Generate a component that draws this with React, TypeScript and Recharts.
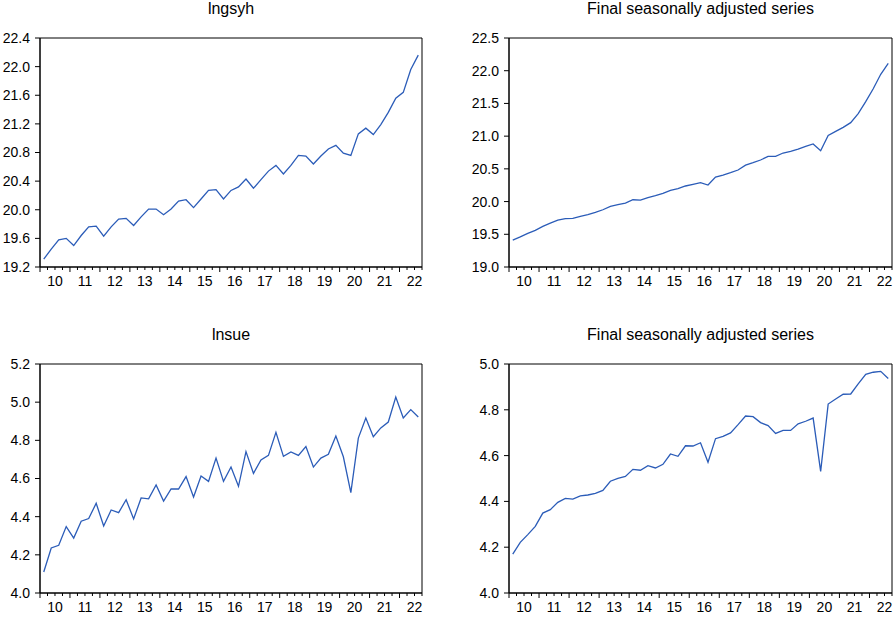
import React from "react";
import { LineChart, Line, XAxis, YAxis, ReferenceArea } from "recharts";

// Quarterly observations 2010Q1 .. 2022Q3 (51 obs)
const YEAR_LABELS = ["10", "11", "12", "13", "14", "15", "16", "17", "18", "19", "20", "21", "22"];

const LNGSYH = [
  19.31, 19.45, 19.58, 19.6, 19.5, 19.64, 19.76, 19.77, 19.63, 19.76,
  19.87, 19.88, 19.78, 19.9, 20.01, 20.01, 19.93, 20.01, 20.12, 20.14,
  20.03, 20.15, 20.27, 20.28, 20.15, 20.27, 20.32, 20.43, 20.3, 20.42,
  20.54, 20.62, 20.5, 20.62, 20.76, 20.75, 20.64, 20.75, 20.85, 20.9,
  20.79, 20.76, 21.06, 21.14, 21.05, 21.19, 21.36, 21.56, 21.64, 21.96,
  22.16,
];

const LNGSYH_SA = [
  19.41, 19.46, 19.515, 19.56, 19.62, 19.67, 19.715, 19.74, 19.743, 19.775,
  19.8, 19.835, 19.875, 19.927, 19.952, 19.977, 20.028, 20.023, 20.06, 20.09,
  20.125, 20.171, 20.197, 20.238, 20.263, 20.288, 20.253, 20.375, 20.406, 20.441,
  20.482, 20.556, 20.594, 20.635, 20.691, 20.691, 20.742, 20.768, 20.803, 20.844,
  20.88, 20.778, 21.01, 21.073, 21.134, 21.206, 21.345, 21.527, 21.725, 21.945,
  22.112,
];

const LNSUE = [
  4.11, 4.236, 4.25, 4.348, 4.288, 4.376, 4.39, 4.47, 4.351, 4.435,
  4.421, 4.489, 4.388, 4.498, 4.493, 4.566, 4.482, 4.545, 4.545, 4.61,
  4.503, 4.613, 4.585, 4.707, 4.585, 4.66, 4.559, 4.741, 4.627, 4.697,
  4.721, 4.842, 4.716, 4.739, 4.721, 4.767, 4.66, 4.707, 4.727, 4.823,
  4.714, 4.526, 4.812, 4.917, 4.819, 4.865, 4.896, 5.027, 4.917, 4.961,
  4.922,
];

const LNSUE_SA = [
  4.17, 4.221, 4.255, 4.291, 4.349, 4.364, 4.396, 4.413, 4.41, 4.424,
  4.428, 4.435, 4.448, 4.488, 4.501, 4.509, 4.54, 4.536, 4.556, 4.546,
  4.562, 4.607, 4.597, 4.643, 4.642, 4.656, 4.571, 4.674, 4.684, 4.699,
  4.735, 4.773, 4.77, 4.744, 4.731, 4.697, 4.71, 4.71, 4.739, 4.75,
  4.764, 4.531, 4.825, 4.847, 4.868, 4.869, 4.913, 4.955, 4.964, 4.968,
  4.937,
];

const TICKS_LNGSYH = [19.2, 19.6, 20.0, 20.4, 20.8, 21.2, 21.6, 22.0, 22.4];
const TICKS_LNGSYH_SA = [19.0, 19.5, 20.0, 20.5, 21.0, 21.5, 22.0, 22.5];
const TICKS_LNSUE = [4.0, 4.2, 4.4, 4.6, 4.8, 5.0, 5.2];
const TICKS_LNSUE_SA = [4.0, 4.2, 4.4, 4.6, 4.8, 5.0];

const FONT = "'Liberation Sans', Arial, Helvetica, sans-serif";
const LINE_COLOR = "#2b5cb8";

const toRows = (values: number[]) => values.map((v, i) => ({ i, v }));

const N = LNGSYH.length;
// slot boundaries between observations (used for the quarter tick marks)
const X_TICKS = Array.from({ length: N + 1 }, (_, k) => k - 0.5);

const XTick = (props: any) => {
  const { x, y, payload } = props;
  const k = Math.round(payload.value + 0.5);
  const isYear = k % 4 === 0;
  const isLabel = (k - 2) % 4 === 0;
  const label = isLabel ? YEAR_LABELS[(k - 2) / 4] : null;
  return (
    <g>
      <line x1={x} x2={x} y1={y} y2={y + (isYear ? 5 : 3)} stroke="#000" strokeWidth={1} />
      {label && (
        <text x={x} y={y + 19} textAnchor="middle" fontSize={14} fontFamily={FONT} fill="#000">
          {label}
        </text>
      )}
    </g>
  );
};

type PanelProps = {
  title: string;
  values: number[];
  ticks: number[];
  left: number;
  top: number;
  width: number;
  height: number;
  yAxisWidth: number;
  marginTop: number;
  marginRight: number;
  xAxisHeight: number;
};

const Panel = (p: PanelProps) => {
  const data = toRows(p.values);
  const yMin = p.ticks[0];
  const yMax = p.ticks[p.ticks.length - 1];
  const plotLeft = p.yAxisWidth;
  const plotWidth = p.width - p.yAxisWidth - p.marginRight;
  return (
    <div style={{ position: "absolute", left: p.left, top: p.top, width: p.width, height: p.height }}>
      <div
        style={{
          position: "absolute",
          left: plotLeft,
          width: plotWidth,
          top: p.marginTop - 38,
          textAlign: "center",
          fontFamily: FONT,
          fontSize: 16,
          lineHeight: "18px",
          color: "#000",
          whiteSpace: "nowrap",
        }}
      >
        {p.title}
      </div>
      <LineChart
        width={p.width}
        height={p.height}
        data={data}
        margin={{ top: p.marginTop, right: p.marginRight, bottom: 0, left: 0 }}
      >
        <XAxis
          dataKey="i"
          type="number"
          domain={[-0.5, N - 0.5]}
          ticks={X_TICKS}
          interval={0}
          height={p.xAxisHeight}
          tickSize={0}
          tickMargin={0}
          tickLine={false}
          axisLine={{ stroke: "#000" }}
          tick={<XTick />}
        />
        <YAxis
          type="number"
          domain={[yMin, yMax]}
          ticks={p.ticks}
          interval={0}
          width={p.yAxisWidth}
          tickSize={5}
          tickMargin={5}
          tickLine={{ stroke: "#000" }}
          axisLine={{ stroke: "#000" }}
          tickFormatter={(v: number) => v.toFixed(1)}
          tick={{ fontSize: 14, fontFamily: FONT, fill: "#000" }}
        />
        <ReferenceArea x1={-0.5} x2={N - 0.5} y1={yMin} y2={yMax} fill="none" stroke="#000" strokeWidth={1} />
        <Line
          type="linear"
          dataKey="v"
          stroke={LINE_COLOR}
          strokeWidth={1.3}
          dot={false}
          isAnimationActive={false}
        />
      </LineChart>
    </div>
  );
};

export default function App() {
  return (
    <div style={{ position: "absolute", left: 0, top: 0, width: 894, height: 620, background: "#fff" }}>
      <Panel title="lngsyh" values={LNGSYH} ticks={TICKS_LNGSYH} left={0} top={0} width={440} height={300}
        yAxisWidth={40} marginTop={38} marginRight={18} xAxisHeight={33} />
      <Panel title="Final seasonally adjusted series" values={LNGSYH_SA} ticks={TICKS_LNGSYH_SA} left={450} top={0}
        width={444} height={300} yAxisWidth={59} marginTop={38} marginRight={2} xAxisHeight={33} />
      <Panel title="lnsue" values={LNSUE} ticks={TICKS_LNSUE} left={0} top={320} width={440} height={300}
        yAxisWidth={40} marginTop={44} marginRight={18} xAxisHeight={27} />
      <Panel title="Final seasonally adjusted series" values={LNSUE_SA} ticks={TICKS_LNSUE_SA} left={450} top={320}
        width={444} height={300} yAxisWidth={59} marginTop={44} marginRight={2} xAxisHeight={27} />
    </div>
  );
}
